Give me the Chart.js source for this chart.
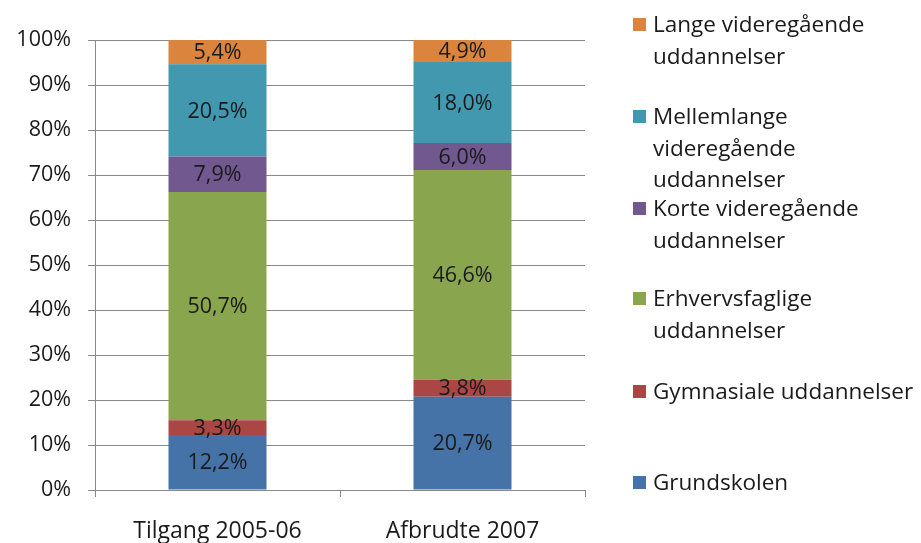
<!DOCTYPE html>
<html>
<head>
<meta charset="utf-8">
<script src="https://cdn.jsdelivr.net/npm/chart.js@4.4.1/dist/chart.umd.min.js"></script>
<style>
  html, body { margin: 0; padding: 0; background: #fff; }
  #wrap { width: 921px; height: 543px; position: relative; }
</style>
</head>
<body>
<div id="wrap"><canvas id="chart" width="921" height="543"></canvas></div>
<script>
// Stacked 100% bars: education level shares

const FONT = '"Open Sans", Lato, sans-serif';

const categories = ['Tilgang 2005-06', 'Afbrudte 2007'];

// bottom to top
const seriesNames = [
    'Grundskolen',
    'Gymnasiale uddannelser',
    'Erhvervsfaglige uddannelser',
    'Korte videregående uddannelser',
    'Mellemlange videregående uddannelser',
    'Lange videregående uddannelser'
];
const legendLines = [
    ['Grundskolen'],
    ['Gymnasiale uddannelser'],
    ['Erhvervsfaglige', 'uddannelser'],
    ['Korte videregående', 'uddannelser'],
    ['Mellemlange', 'videregående', 'uddannelser'],
    ['Lange videregående', 'uddannelser']
];
const grundskolen = [12.2, 20.7];
const gymnasiale = [3.3, 3.8];
const erhvervsfaglige = [50.7, 46.6];
const korte = [7.9, 6.0];
const mellemlange = [20.5, 18.0];
const lange = [5.4, 4.9];

const seriesColors = ['#4572A7', '#AA4643', '#89A54E', '#71588F', '#4198AF', '#DB843D'];

const yTicks = [0, 10, 20, 30, 40, 50, 60, 70, 80, 90, 100];

function pct(v) {
    return v.toFixed(1).replace('.', ',') + '%';
}

// --- Plugins ---

const segmentLabels = {
    id: 'segmentLabels',
    afterDatasetsDraw(chart) {
        const ctx = chart.ctx;
        ctx.save();
        ctx.font = '21.5px ' + FONT;
        ctx.fillStyle = '#1a1a1a';
        ctx.textAlign = 'center';
        ctx.textBaseline = 'middle';
        chart.data.datasets.forEach((ds, i) => {
            const meta = chart.getDatasetMeta(i);
            meta.data.forEach((bar, j) => {
                const midY = (bar.y + bar.base) / 2;
                ctx.fillText(pct(ds.data[j]), bar.x, midY + 1);
            });
        });
        ctx.restore();
    }
};

// Legend on the right, top item = top series
const sideLegend = {
    id: 'sideLegend',
    afterDraw(chart) {
        const ctx = chart.ctx;
        const x0 = 633, box = 13, textX = 653, lineH = 31.5;
        const tops = [476, 385, 292, 202, 110, 18]; // per series, bottom to top
        ctx.save();
        ctx.font = '22.5px ' + FONT;
        ctx.textBaseline = 'middle';
        ctx.textAlign = 'left';
        seriesNames.forEach((name, i) => {
            ctx.fillStyle = seriesColors[i];
            ctx.fillRect(x0, tops[i], box, box);
            ctx.fillStyle = '#1a1a1a';
            legendLines[i].forEach((line, k) => {
                ctx.fillText(line, textX, tops[i] + box / 2 + 1.5 + k * lineH);
            });
        });
        ctx.restore();
    }
};

const seriesData = [grundskolen, gymnasiale, erhvervsfaglige, korte, mellemlange, lange];

new Chart(document.getElementById('chart'), {
    type: 'bar',
    data: {
        labels: categories,
        datasets: seriesNames.map((name, i) => ({
            label: name,
            data: seriesData[i],
            backgroundColor: seriesColors[i],
            borderWidth: 0,
            categoryPercentage: 1,
            barPercentage: 0.4
        }))
    },
    options: {
        responsive: false,
        animation: false,
        layout: { padding: { top: 40, right: 336, left: 0, bottom: 0 } },
        plugins: {
            legend: { display: false },
            tooltip: { enabled: false }
        },
        scales: {
            x: {
                stacked: true,
                offset: true,
                grid: {
                    offset: true,
                    drawOnChartArea: false,
                    drawTicks: true,
                    tickLength: 7,
                    color: '#888888'
                },
                border: { display: true, color: '#888888' },
                ticks: {
                    font: { family: FONT, size: 23 },
                    color: '#1a1a1a',
                    padding: 21
                },
                afterFit(s) { s.height = 53; }
            },
            y: {
                stacked: true,
                min: 0,
                max: 100,
                afterBuildTicks(s) { s.ticks = yTicks.map(v => ({ value: v })); },
                grid: { color: '#888888', tickLength: 7 },
                border: { display: true, color: '#888888' },
                ticks: {
                    callback: v => v + '%',
                    font: { family: FONT, size: 21.5 },
                    color: '#1a1a1a',
                    padding: 17
                },
                afterFit(s) { s.width = 95; }
            }
        }
    },
    plugins: [segmentLabels, sideLegend]
});
</script>
</body>
</html>
